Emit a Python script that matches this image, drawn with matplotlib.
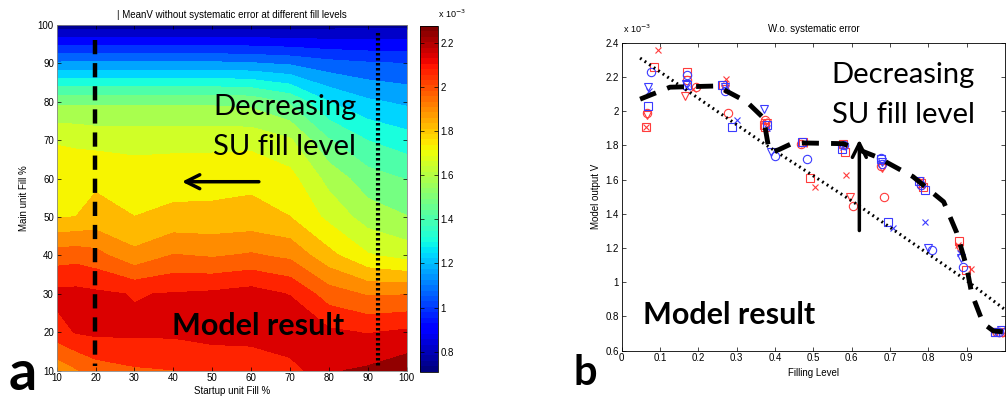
import matplotlib
matplotlib.use('Agg')
import matplotlib.pyplot as plt
import numpy as np

# ---- panel a: model grid (values x 1e-3) ----
startup_fill = [10, 15, 20, 30, 40, 50, 60, 70, 80, 90, 100]
main_fill = [10, 20, 30, 40, 50, 60, 70, 80, 90, 100]

# one row per main unit fill level, columns follow startup_fill
mean_v = [
    [1.88, 1.93, 1.98, 2.01, 2.02, 2.05, 2.06, 2.06, 2.18, 2.20, 2.24],   # 10
    [2.07, 2.11, 2.12, 2.12, 2.12, 2.13, 2.13, 2.19, 2.12, 2.10, 2.12],   # 20
    [2.13, 2.13, 2.12, 2.10, 2.11, 2.12, 2.14, 2.10, 1.98, 1.93, 1.935],  # 30
    [1.98, 1.99, 1.97, 1.88, 1.945, 1.93, 1.95, 1.92, 1.80, 1.70, 1.66], # 40
    [1.772, 1.775, 1.80, 1.775, 1.795, 1.795, 1.80, 1.775, 1.67, 1.57, 1.53],  # 50
    [1.73, 1.73, 1.76, 1.73, 1.74, 1.745, 1.755, 1.72, 1.58, 1.48, 1.44],  # 60
    [1.686, 1.68, 1.665, 1.665, 1.665, 1.665, 1.665, 1.62, 1.45, 1.36, 1.315],  # 70
    [1.51, 1.51, 1.51, 1.51, 1.51, 1.51, 1.50, 1.43, 1.28, 1.21, 1.18],   # 80
    [1.127, 1.13, 1.13, 1.13, 1.13, 1.13, 1.12, 1.10, 1.06, 1.04, 1.03],  # 90
    [0.733, 0.735, 0.735, 0.735, 0.735, 0.735, 0.74, 0.74, 0.75, 0.755, 0.76],  # 100
]
clim = (0.709, 2.276)
cbar_ticks = [0.8, 1.0, 1.2, 1.4, 1.6, 1.8, 2.0, 2.2]

# ---- panel b: model output vs filling level (values x 1e-3) ----
red_sq_x = [0.085, 0.063, 0.17, 0.265, 0.375, 0.37, 0.473, 0.491, 0.577, 0.583, 0.78, 0.785, 0.881, 0.897, 0.975, 0.99]
red_sq_y = [2.26, 1.91, 2.23, 2.15, 1.91, 1.92, 1.82, 1.607, 1.81, 1.76, 1.58, 1.555, 1.24, 1.07, 0.71, 0.71]
red_o_x = [0.065, 0.17, 0.195, 0.278, 0.375, 0.468, 0.604, 0.684, 0.676, 0.78, 0.985]
red_o_y = [1.99, 2.18, 2.14, 1.99, 1.95, 1.81, 1.445, 1.50, 1.68, 1.57, 0.71]
red_v_x = [0.065, 0.165, 0.27, 0.378, 0.596, 0.68, 0.88, 0.97]
red_v_y = [1.98, 2.09, 2.13, 1.93, 1.50, 1.67, 1.20, 0.71]
red_x_x = [0.095, 0.063, 0.187, 0.272, 0.372, 0.475, 0.504, 0.585, 0.58, 0.78, 0.878, 0.91, 1.0]
red_x_y = [2.36, 1.91, 2.13, 2.19, 1.94, 1.81, 1.555, 1.627, 1.80, 1.60, 1.22, 1.08, 0.70]
blue_sq_x = [0.068, 0.17, 0.262, 0.289, 0.38, 0.47, 0.575, 0.696, 0.676, 0.776, 0.79, 0.975]
blue_sq_y = [2.03, 2.15, 2.15, 1.905, 1.92, 1.82, 1.78, 1.354, 1.72, 1.59, 1.54, 0.71]
blue_o_x = [0.076, 0.17, 0.27, 0.40, 0.483, 0.58, 0.677, 0.68, 0.78, 0.81, 0.89, 0.985]
blue_o_y = [2.23, 2.21, 2.12, 1.74, 1.72, 1.80, 1.725, 1.69, 1.57, 1.19, 1.09, 0.71]
blue_v_x = [0.069, 0.168, 0.27, 0.37, 0.39, 0.68, 0.798, 0.885, 0.99]
blue_v_y = [2.14, 2.16, 2.14, 2.01, 1.76, 1.70, 1.20, 1.14, 0.72]
blue_x_x = [0.07, 0.17, 0.30, 0.38, 0.577, 0.709, 0.79, 0.883, 0.98]
blue_x_y = [2.12, 2.14, 1.95, 1.90, 1.79, 1.315, 1.35, 1.17, 0.71]

# hand drawn guide curves
dash_x = [0.048, 0.126, 0.248, 0.326, 0.37, 0.383, 0.39, 0.41, 0.448, 0.578, 0.665, 0.76, 0.84, 0.874, 0.90, 0.913, 0.943, 0.97, 1.0]
dash_y = [2.07, 2.14, 2.147, 2.055, 1.96, 1.79, 1.76, 1.775, 1.815, 1.81, 1.733, 1.617, 1.47, 1.29, 1.09, 0.935, 0.76, 0.715, 0.71]
dot_x = [0.048, 0.378, 0.604, 0.9, 1.0]
dot_y = [2.31, 1.80, 1.47, 1.01, 0.84]

W, H = 1008, 401
fig = plt.figure(figsize=(W / 100, H / 100), dpi=100)
plt.rcParams['font.family'] = ['Liberation Sans', 'DejaVu Sans']
tick_fs = 7
big_font = 'Lato'

# ---------------- panel a ----------------
ax1 = fig.add_axes([56.7 / W, 1 - 370.7 / H, 350 / W, 345.7 / H])
X, Y = np.meshgrid(startup_fill, main_fill)
Z = np.array(mean_v)
cmap = plt.get_cmap('jet', 64)
levels = np.linspace(0.70, 2.27, 20)
ax1.contourf(X, Y, Z, levels=levels, cmap=cmap, vmin=clim[0], vmax=clim[1], extend='both')
ax1.set_xlim(10, 100)
ax1.set_ylim(10, 100)
ax1.set_xticks(range(10, 101, 10))
ax1.set_yticks(range(10, 101, 10))
ax1.tick_params(direction='in', top=True, right=True, labelsize=tick_fs, length=3, width=0.5, pad=2)
for s in ax1.spines.values():
    s.set_linewidth(0.6)
    s.set_color('#888888')
ax1.set_xlabel('Startup unit Fill %', fontsize=tick_fs, labelpad=2)
ax1.set_ylabel('Main unit Fill %', fontsize=tick_fs, labelpad=6)
ax1.set_title('| MeanV without systematic error at different fill levels', fontsize=tick_fs, pad=5)

ax1.plot([19.85, 19.85], [96.1, 11.3], color='black', lw=3.2, dashes=(3.2, 2.0))
ax1.plot([92.5, 92.5], [97.8, 10.6], color='black', lw=3.0, dashes=(0.6, 0.6))
ax1.annotate('', xy=(41.5, 59.2), xytext=(62.7, 59.2),
             arrowprops=dict(arrowstyle='->', lw=2.5, color='black', mutation_scale=25))
ax1.text(50.2, 76.6, 'Decreasing', fontsize=21, family=big_font, va='baseline')
ax1.text(50.2, 66.2, 'SU fill level', fontsize=21, family=big_font, va='baseline')
ax1.text(39.6, 19.3, 'Model result', fontsize=22, family=big_font, weight='bold', va='baseline')

# colorbar
cax = fig.add_axes([420 / W, 1 - 371.7 / H, 17.7 / W, 345.7 / H])
sm = matplotlib.cm.ScalarMappable(norm=matplotlib.colors.Normalize(*clim), cmap=cmap)
cb = fig.colorbar(sm, cax=cax, ticks=cbar_ticks)
cb.ax.set_yticklabels(['0.8', '1', '1.2', '1.4', '1.6', '1.8', '2', '2.2'])
cb.ax.tick_params(direction='in', labelsize=tick_fs, length=3, width=0.5, pad=2, left=True)
cb.outline.set_linewidth(0.6)
fig.text(438 / W, 1 - 18 / H, r'x 10$^{-3}$', fontsize=6.5, va='baseline')

# ---------------- panel b ----------------
ax2 = fig.add_axes([621.7 / W, 1 - 350.7 / H, 383.3 / W, 308 / H])
red = '#ff3b3b'
blue = '#3b3bff'
ms = 6
ax2.plot(red_sq_x, red_sq_y, 's', mfc='none', mec=red, ms=ms, mew=0.8)
ax2.plot(red_o_x, red_o_y, 'o', mfc='none', mec=red, ms=ms, mew=0.8)
ax2.plot(red_v_x, red_v_y, 'v', mfc='none', mec=red, ms=ms, mew=0.8)
ax2.plot(red_x_x, red_x_y, 'x', color=red, ms=4, mew=0.8)
ax2.plot(blue_sq_x, blue_sq_y, 's', mfc='none', mec=blue, ms=ms, mew=0.8)
ax2.plot(blue_o_x, blue_o_y, 'o', mfc='none', mec=blue, ms=ms, mew=0.8)
ax2.plot(blue_v_x, blue_v_y, 'v', mfc='none', mec=blue, ms=ms, mew=0.8)
ax2.plot(blue_x_x, blue_x_y, 'x', color=blue, ms=4, mew=0.8)

ax2.plot(dot_x, dot_y, color='black', lw=2.2, dashes=(0.6, 1.2))
ax2.plot(dash_x, dash_y, color='black', lw=3.5, dashes=(3.5, 2.5))
ax2.annotate('', xy=(0.62, 1.85), xytext=(0.62, 1.286),
             arrowprops=dict(arrowstyle='->', lw=2.5, color='black', mutation_scale=25))

ax2.set_xlim(0, 1)
ax2.set_ylim(0.6, 2.4)
ax2.set_xticks(np.arange(0, 1.0, 0.1))
ax2.set_xticklabels(['0', '0.1', '0.2', '0.3', '0.4', '0.5', '0.6', '0.7', '0.8', '0.9'])
ax2.set_yticks(np.arange(0.6, 2.41, 0.2))
ax2.set_yticklabels(['0.6', '0.8', '1', '1.2', '1.4', '1.6', '1.8', '2', '2.2', '2.4'])
ax2.tick_params(direction='in', top=True, right=True, labelsize=tick_fs, length=3, width=0.5, pad=2)
for s in ax2.spines.values():
    s.set_linewidth(0.6)
ax2.set_xlabel('Filling Level', fontsize=tick_fs, labelpad=3)
ax2.set_ylabel('Model output V', fontsize=tick_fs, labelpad=3)
ax2.set_title('W.o. systematic error', fontsize=tick_fs, pad=8)
fig.text(623 / W, 1 - 33 / H, r'x 10$^{-3}$', fontsize=6.5, va='baseline')

ax2.text(0.548, 2.163, 'Decreasing', fontsize=21, family=big_font, va='baseline')
ax2.text(0.548, 1.929, 'SU fill level', fontsize=21, family=big_font, va='baseline')
ax2.text(0.055, 0.756, 'Model result', fontsize=22, family=big_font, weight='bold', va='baseline')

fig.text(9 / W, 1 - 390 / H, 'a', fontsize=40, family=big_font, weight='bold', va='baseline')
fig.text(573 / W, 1 - 385 / H, 'b', fontsize=30, family=big_font, weight='bold', va='baseline')

fig.savefig('out.png', dpi=100)
